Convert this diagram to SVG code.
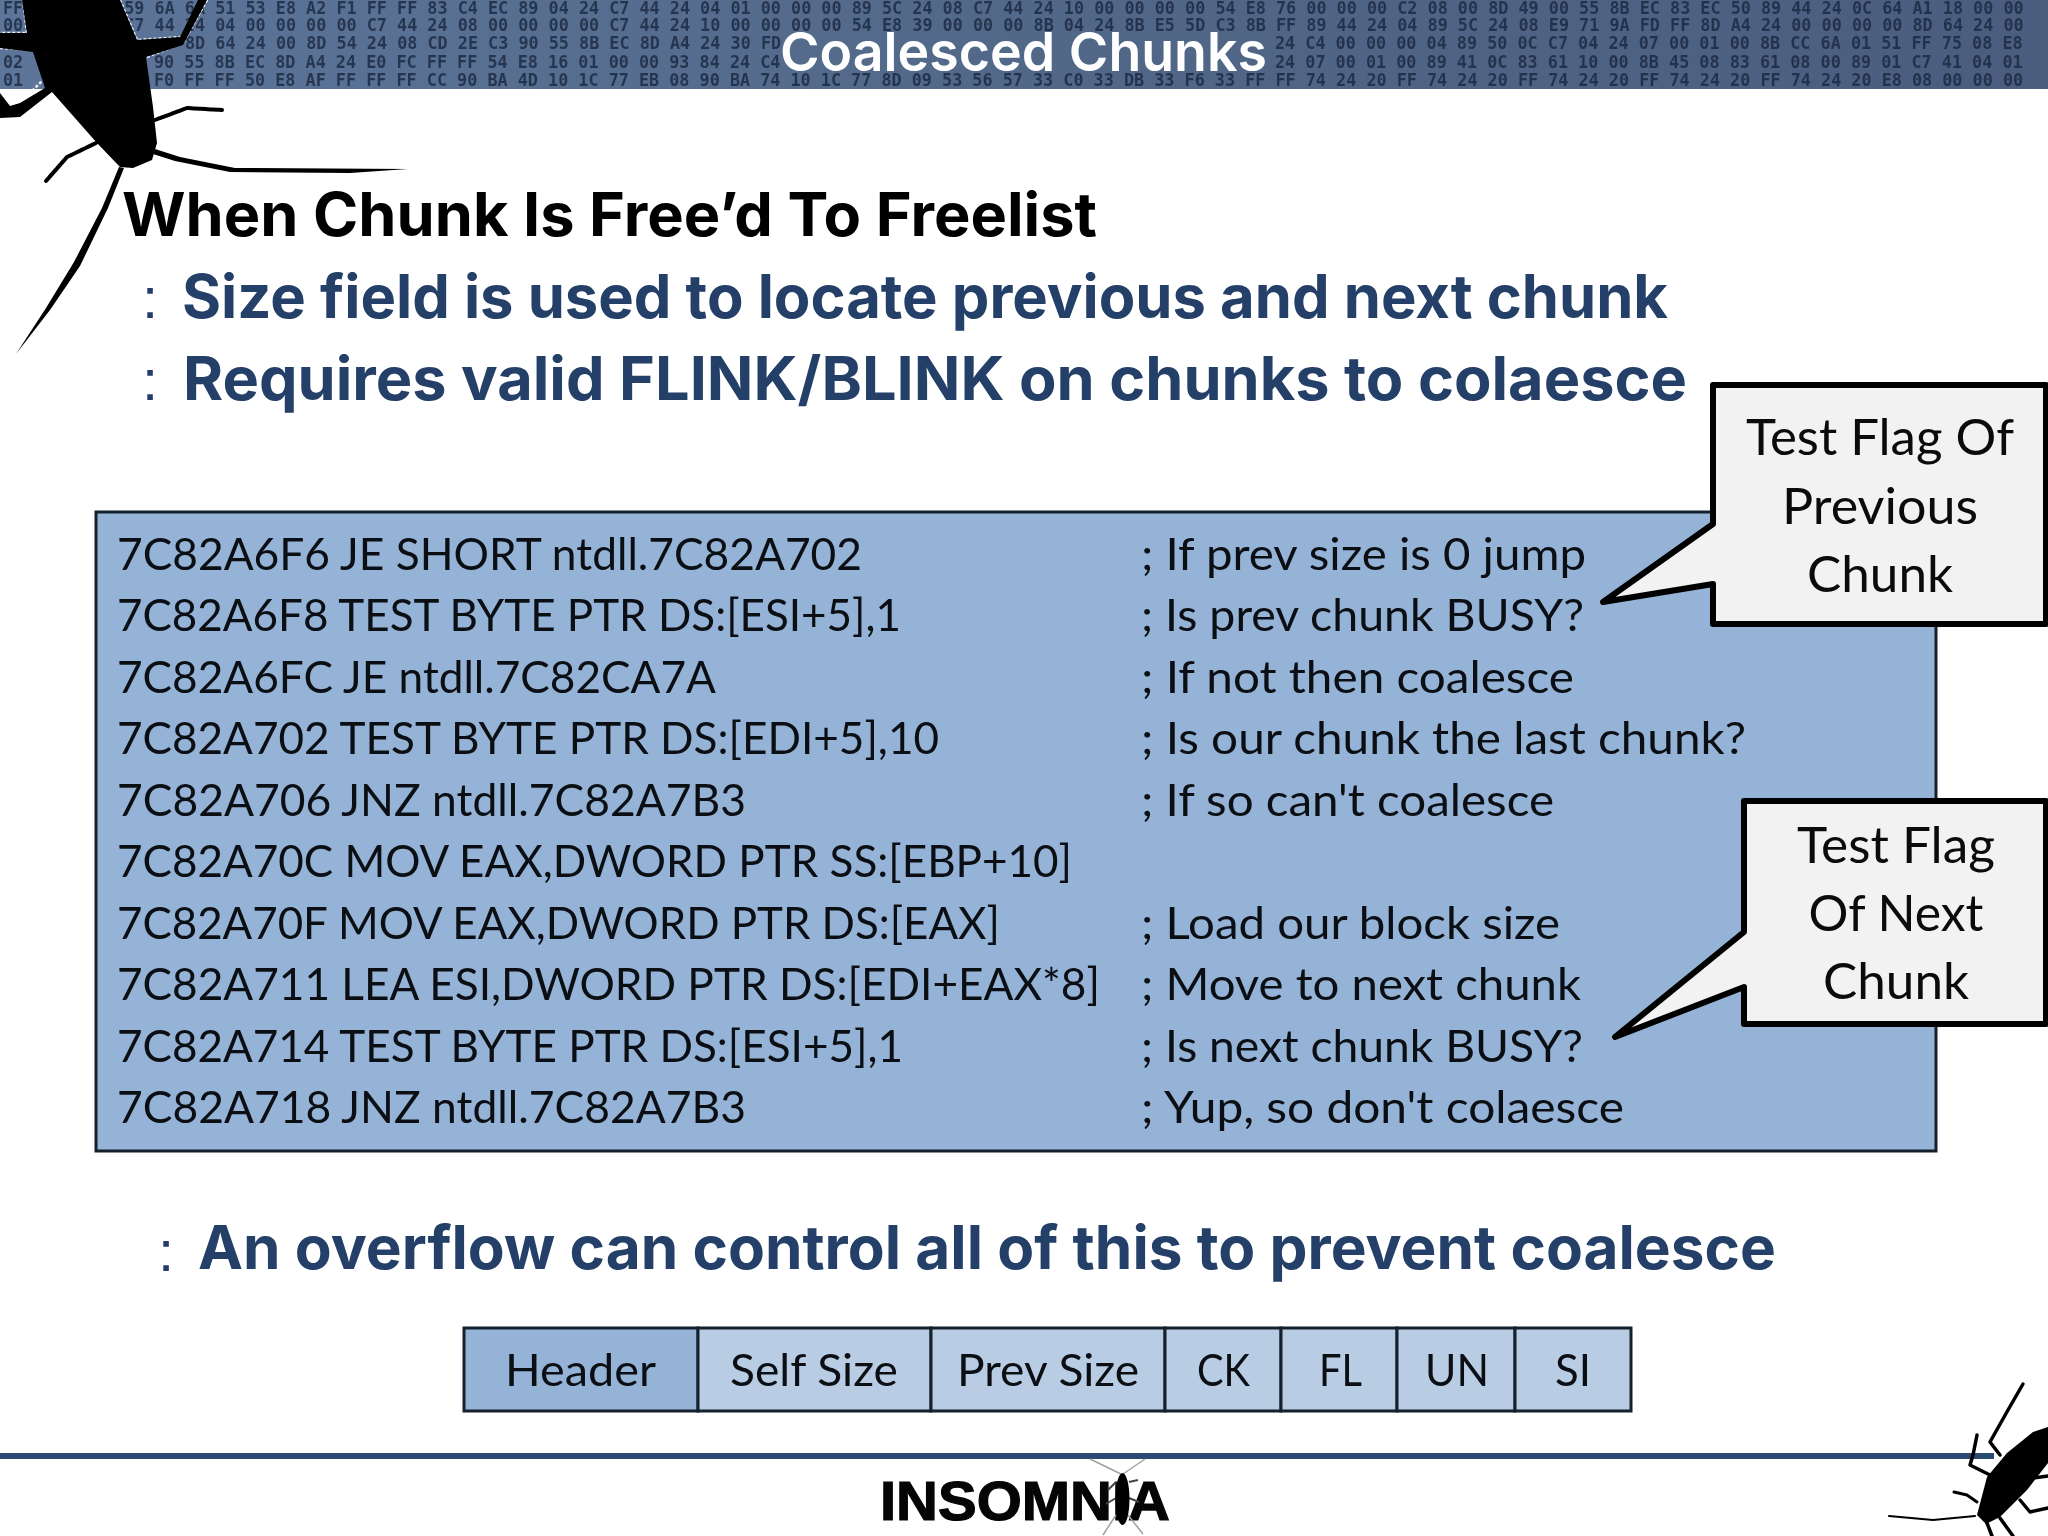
<svg xmlns="http://www.w3.org/2000/svg" width="2048" height="1536" viewBox="0 0 2048 1536">
<style>
.hex{font:bold 16.8px "DejaVu Sans Mono",monospace;fill:#1c2740;opacity:.8}
.title{font:600 54px "Inter","Liberation Sans",sans-serif;fill:#fff}
.h1{font:700 60px "Inter","Liberation Sans",sans-serif;fill:#000}
.h2{font:700 60px "Inter","Liberation Sans",sans-serif;fill:#244068}
.dot{font:400 58px "Liberation Sans",sans-serif;fill:#244068}
.code{font:400 45px "Lato","Noto Sans",sans-serif;fill:#0b0f14}
.call{font:400 50px "Lato","Noto Sans",sans-serif;fill:#0b0b0b;text-anchor:middle}
.cell{font:400 45px "Lato","Noto Sans",sans-serif;fill:#0b0f14}
.bub{fill:#f2f2f2;stroke:#000;stroke-width:6;stroke-linejoin:round}
.tbl{stroke:#14202c;stroke-width:3}
.bug{fill:#000}
.leg{fill:none;stroke:#000;stroke-linecap:round;stroke-linejoin:round}
</style>
<defs>
<linearGradient id="band" x1="0" x2="1" y1="0" y2="0"><stop offset="0" stop-color="#5c7599"/><stop offset=".5" stop-color="#526889"/><stop offset="1" stop-color="#4a5d7e"/></linearGradient>
<clipPath id="bandClip"><rect x="0" y="0" width="2048" height="89"/></clipPath>
<filter id="soft" x="-2%" y="-20%" width="104%" height="140%"><feGaussianBlur stdDeviation="0.5"/></filter>
</defs>
<rect width="2048" height="1536" fill="#fff"/>
<g id="header-band">
<rect x="0" y="0" width="2048" height="89" fill="url(#band)"/>
<g clip-path="url(#bandClip)" filter="url(#soft)">
<text class="hex" x="3" y="14">FF 00 00 00 59 6A 6A 51 53 E8 A2 F1 FF FF 83 C4 EC 89 04 24 C7 44 24 04 01 00 00 00 89 5C 24 08 C7 44 24 10 00 00 00 00 54 E8 76 00 00 00 C2 08 00 8D 49 00 55 8B EC 83 EC 50 89 44 24 0C 64 A1 18 00 00</text>
<text class="hex" x="3" y="31">00 00 00 00 C7 44 24 04 00 00 00 00 C7 44 24 08 00 00 00 00 C7 44 24 10 00 00 00 00 54 E8 39 00 00 00 8B 04 24 8B E5 5D C3 8B FF 89 44 24 04 89 5C 24 08 E9 71 9A FD FF 8D A4 24 00 00 00 00 8D 64 24 00</text>
<text class="hex" x="185" y="49">8D 64 24 00 8D 54 24 08 CD 2E C3 90 55 8B EC 8D A4 24 30 FD</text>
<text class="hex" x="1275" y="49">24 C4 00 00 00 04 89 50 0C C7 04 24 07 00 01 00 8B CC 6A 01 51 FF 75 08 E8</text>
<text class="hex" x="3" y="68">02</text>
<text class="hex" x="154" y="68">90 55 8B EC 8D A4 24 E0 FC FF FF 54 E8 16 01 00 00 93 84 24 C4</text>
<text class="hex" x="1275" y="68">24 07 00 01 00 89 41 0C 83 61 10 00 8B 45 08 83 61 08 00 89 01 C7 41 04 01</text>
<text class="hex" x="3" y="86">01</text>
<text class="hex" x="154" y="86">F0 FF FF 50 E8 AF FF FF FF CC 90 BA 4D 10 1C 77 EB 08 90 BA 74 10 1C 77 8D 09 53 56 57 33 C0 33 DB 33 F6 33 FF FF 74 24 20 FF 74 24 20 FF 74 24 20 FF 74 24 20 FF 74 24 20 E8 08 00 00 00</text>
</g>
<text class="title" x="780" y="71" textLength="487" lengthAdjust="spacingAndGlyphs">Coalesced Chunks</text>
</g>
<g id="bug-top-left">
<g clip-path="url(#bandClip)" fill="none" stroke="#e8edf5" stroke-width="2.5" stroke-dasharray="3 2">
<path d="M120 0L137 40L182 37L203 0L207 0L183 43L147 57M23 0L27 33L0 33M0 48L35 50L45 78L20 103L0 93"/>
</g>
<path class="bug" d="M22 0L120 0L137 40L180 37L198 0L207 0L183 45L146 57L153 107L157 143L152 160L133 168L120 167L97 143L52 92L20 117L0 118L0 93L10 106L20 103L45 88L33 52L0 48L0 33L27 33Z"/>
<path class="leg" stroke-width="4" stroke-dasharray="5 1" d="M155 120L187 108L222 110"/>
<path class="leg" stroke-width="4" stroke-dasharray="5 1" d="M96 143L67 157L46 181"/>
<path class="bug" d="M155 149L180 157L235 168L408 169L350 173L230 172L175 161L153 154Z"/>
<path class="bug" d="M119 167L124 168L108 208L80 266L50 310L16 354L46 308L74 262L102 208Z"/>
</g>
<g id="heading">
<text class="h1" x="122" y="236" textLength="975" lengthAdjust="spacingAndGlyphs">When Chunk Is Free’d To Freelist</text>
</g>
<g id="bullet-size">
<text class="dot" x="142" y="318">:</text>
<text class="h2" x="182" y="318" textLength="1486" lengthAdjust="spacingAndGlyphs">Size field is used to locate previous and next chunk</text>
</g>
<g id="bullet-requires">
<text class="dot" x="142" y="400">:</text>
<text class="h2" x="183" y="400" textLength="1504" lengthAdjust="spacingAndGlyphs">Requires valid FLINK/BLINK on chunks to colaesce</text>
</g>
<g id="code-box">
<rect x="96" y="512" width="1840" height="639" fill="#95b3d7" stroke="#14202c" stroke-width="3"/>
<text class="code" x="117" y="570" textLength="745" lengthAdjust="spacingAndGlyphs">7C82A6F6 JE SHORT ntdll.7C82A702</text>
<text class="code" x="117" y="631" textLength="784" lengthAdjust="spacingAndGlyphs">7C82A6F8 TEST BYTE PTR DS:[ESI+5],1</text>
<text class="code" x="117" y="693" textLength="599" lengthAdjust="spacingAndGlyphs">7C82A6FC JE ntdll.7C82CA7A</text>
<text class="code" x="117" y="754" textLength="822" lengthAdjust="spacingAndGlyphs">7C82A702 TEST BYTE PTR DS:[EDI+5],10</text>
<text class="code" x="117" y="816" textLength="629" lengthAdjust="spacingAndGlyphs">7C82A706 JNZ ntdll.7C82A7B3</text>
<text class="code" x="117" y="877" textLength="955" lengthAdjust="spacingAndGlyphs">7C82A70C MOV EAX,DWORD PTR SS:[EBP+10]</text>
<text class="code" x="117" y="939" textLength="883" lengthAdjust="spacingAndGlyphs">7C82A70F MOV EAX,DWORD PTR DS:[EAX]</text>
<text class="code" x="117" y="1000" textLength="983" lengthAdjust="spacingAndGlyphs">7C82A711 LEA ESI,DWORD PTR DS:[EDI+EAX*8]</text>
<text class="code" x="117" y="1062" textLength="786" lengthAdjust="spacingAndGlyphs">7C82A714 TEST BYTE PTR DS:[ESI+5],1</text>
<text class="code" x="117" y="1123" textLength="629" lengthAdjust="spacingAndGlyphs">7C82A718 JNZ ntdll.7C82A7B3</text>
<text class="code" x="1141" y="570" textLength="445" lengthAdjust="spacingAndGlyphs">; If prev size is 0 jump</text>
<text class="code" x="1141" y="631" textLength="443" lengthAdjust="spacingAndGlyphs">; Is prev chunk BUSY?</text>
<text class="code" x="1141" y="693" textLength="433" lengthAdjust="spacingAndGlyphs">; If not then coalesce</text>
<text class="code" x="1141" y="754" textLength="605" lengthAdjust="spacingAndGlyphs">; Is our chunk the last chunk?</text>
<text class="code" x="1141" y="816" textLength="413" lengthAdjust="spacingAndGlyphs">; If so can't coalesce</text>
<text class="code" x="1141" y="939" textLength="419" lengthAdjust="spacingAndGlyphs">; Load our block size</text>
<text class="code" x="1141" y="1000" textLength="440" lengthAdjust="spacingAndGlyphs">; Move to next chunk</text>
<text class="code" x="1141" y="1062" textLength="442" lengthAdjust="spacingAndGlyphs">; Is next chunk BUSY?</text>
<text class="code" x="1141" y="1123" textLength="483" lengthAdjust="spacingAndGlyphs">; Yup, so don't colaesce</text>
</g>
<g id="callout-prev">
<path class="bub" d="M1713 385H2046V624H1713V584L1603 602L1713 524Z"/>
<text class="call" x="1880" y="455" textLength="268" lengthAdjust="spacingAndGlyphs">Test Flag Of</text>
<text class="call" x="1880" y="524" textLength="196" lengthAdjust="spacingAndGlyphs">Previous</text>
<text class="call" x="1880" y="592" textLength="146" lengthAdjust="spacingAndGlyphs">Chunk</text>
</g>
<g id="callout-next">
<path class="bub" d="M1744 801H2046V1024H1744V987L1615 1037L1744 932Z"/>
<text class="call" x="1896" y="863" textLength="198" lengthAdjust="spacingAndGlyphs">Test Flag</text>
<text class="call" x="1896" y="931" textLength="175" lengthAdjust="spacingAndGlyphs">Of Next</text>
<text class="call" x="1896" y="999" textLength="146" lengthAdjust="spacingAndGlyphs">Chunk</text>
</g>
<g id="bullet-overflow">
<text class="dot" x="158" y="1271">:</text>
<text class="h2" x="198" y="1269" textLength="1578" lengthAdjust="spacingAndGlyphs">An overflow can control all of this to prevent coalesce</text>
</g>
<g id="chunk-table">
<g id="cell-header"><rect class="tbl" x="464" y="1328" width="234" height="83" fill="#95b3d7"/><text class="cell" x="505" y="1386" textLength="151" lengthAdjust="spacingAndGlyphs">Header</text></g>
<g id="cell-self"><rect class="tbl" x="698" y="1328" width="233" height="83" fill="#b8cce4"/><text class="cell" x="730" y="1386" textLength="168" lengthAdjust="spacingAndGlyphs">Self Size</text></g>
<g id="cell-prev"><rect class="tbl" x="931" y="1328" width="234" height="83" fill="#b8cce4"/><text class="cell" x="957" y="1386" textLength="182" lengthAdjust="spacingAndGlyphs">Prev Size</text></g>
<g id="cell-ck"><rect class="tbl" x="1165" y="1328" width="116" height="83" fill="#b8cce4"/><text class="cell" x="1197" y="1386" textLength="53" lengthAdjust="spacingAndGlyphs">CK</text></g>
<g id="cell-fl"><rect class="tbl" x="1281" y="1328" width="116" height="83" fill="#b8cce4"/><text class="cell" x="1319" y="1386" textLength="43" lengthAdjust="spacingAndGlyphs">FL</text></g>
<g id="cell-un"><rect class="tbl" x="1397" y="1328" width="118" height="83" fill="#b8cce4"/><text class="cell" x="1425" y="1386" textLength="64" lengthAdjust="spacingAndGlyphs">UN</text></g>
<g id="cell-si"><rect class="tbl" x="1515" y="1328" width="116" height="83" fill="#b8cce4"/><text class="cell" x="1555" y="1386" textLength="36" lengthAdjust="spacingAndGlyphs">SI</text></g>
</g>
<g id="footer">
<rect x="0" y="1453" width="1994" height="6" fill="#2b4a72"/>
<text x="880" y="1520" font-family="'Liberation Sans',Arial,sans-serif" font-weight="700" font-size="55" fill="#050505" stroke="#050505" stroke-width="1.2" textLength="290" lengthAdjust="spacingAndGlyphs">INSOMNIA</text>
</g>
<g id="bug-logo">
<path fill="none" stroke="#a0a0a0" stroke-width="1.5" d="M1121 1474L1090 1459M1123 1474L1145 1459M1116 1515L1103 1535M1128 1515L1143 1534"/>
<path fill="none" stroke="#444" stroke-width="2" d="M1116 1482L1108 1490M1129 1482L1138 1480M1116 1498L1106 1504M1129 1498L1139 1502"/>
<ellipse class="bug" cx="1122.500" cy="1499" rx="7" ry="26"/>
</g>
<g id="bug-bottom-right">
<path class="bug" d="M1977 1515L1986 1524L2000 1517L2027 1490L2048 1463L2048 1427L2033 1432L2007 1453L1987 1477Z"/>
<path class="leg" stroke-width="3.5" d="M2000 1455L1990 1442L2008 1410L2023 1384"/>
<path class="leg" stroke-width="3.5" d="M1990 1475L1970 1465L1973 1455L1977 1435"/>
<path class="leg" stroke-width="3" d="M1977 1502L1967 1495L1954 1492"/>
<path class="leg" stroke-width="2" d="M1975 1516L1933 1520L1889 1516"/>
<path class="leg" stroke-width="3.5" d="M2020 1500L2030 1512L2048 1508M2033 1478L2048 1476M1987 1523L1992 1536M2000 1518L2013 1536"/>
</g>
</svg>
